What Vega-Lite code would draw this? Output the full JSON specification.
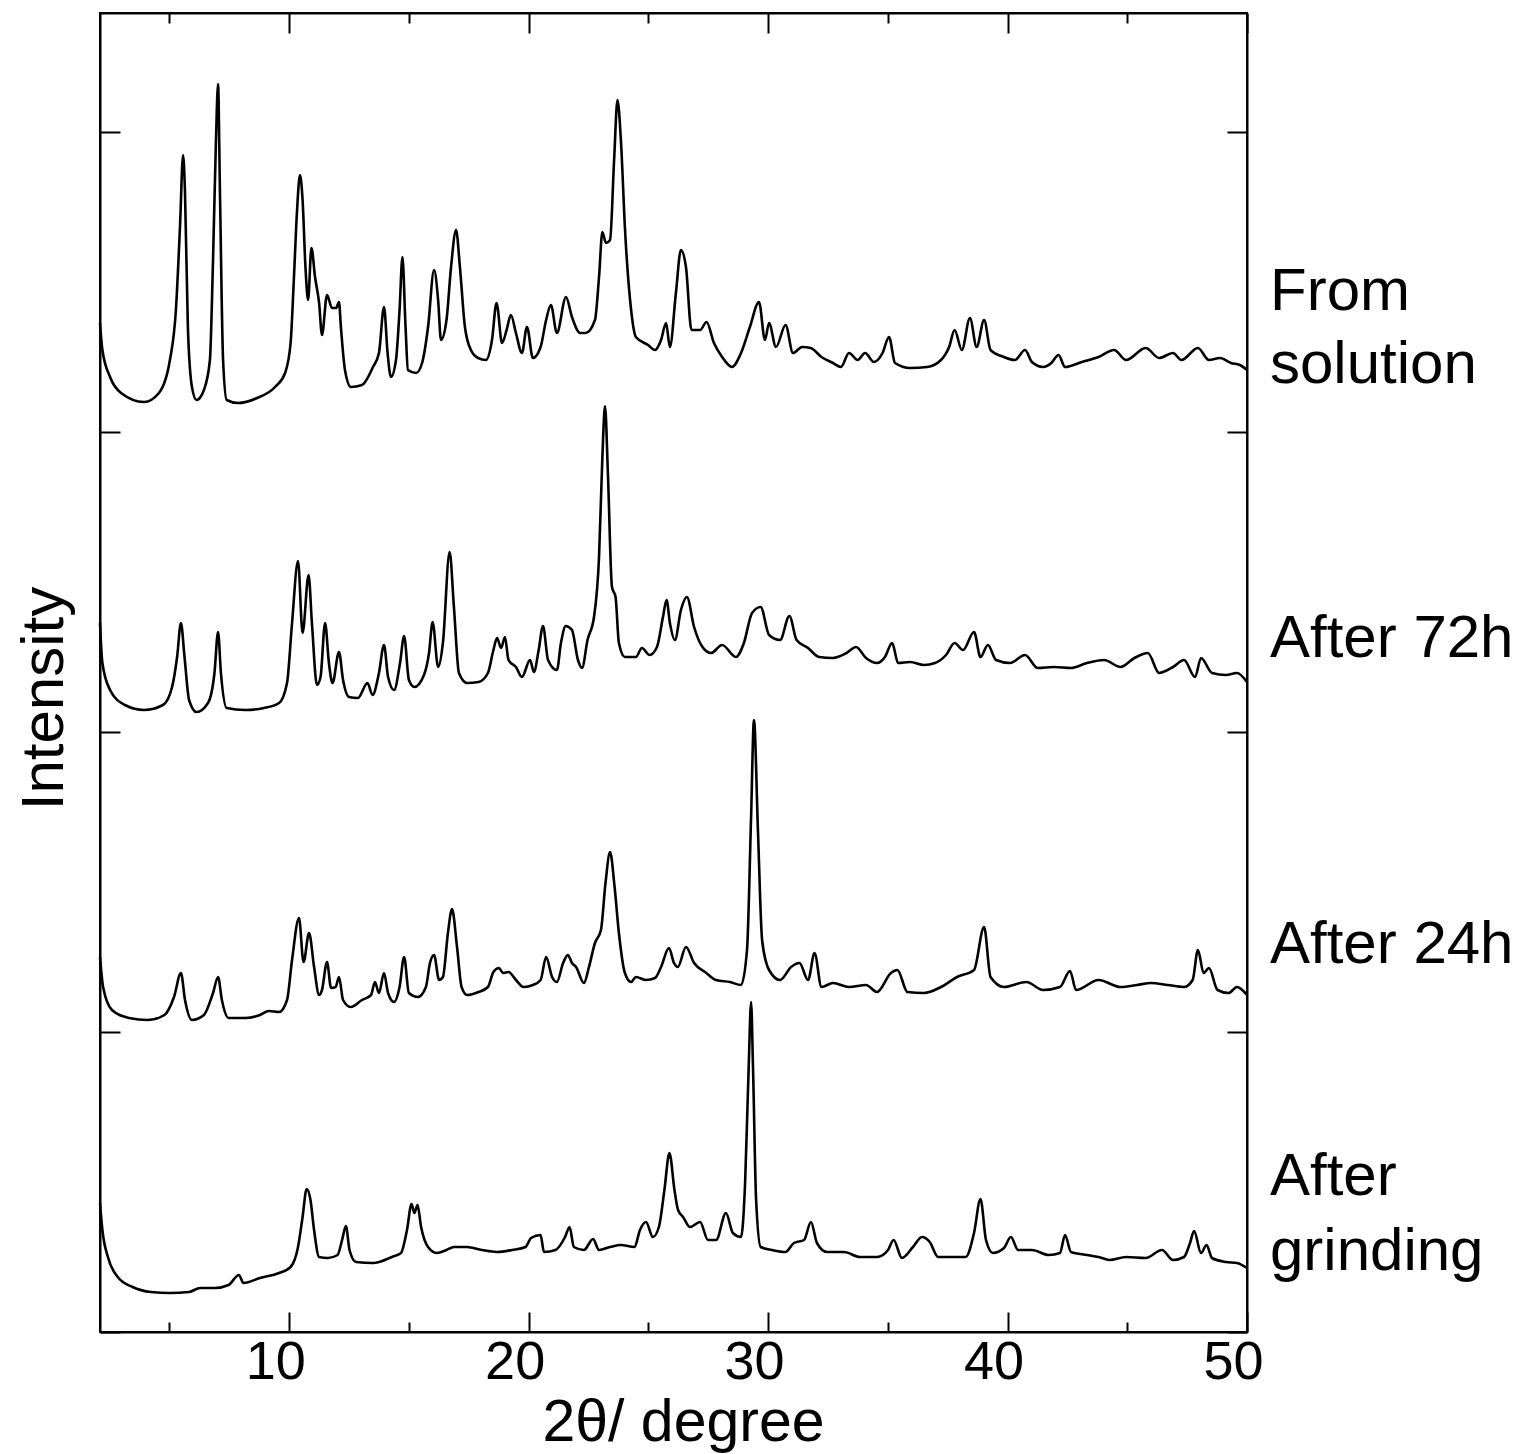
{
  "$schema": "https://vega.github.io/schema/vega-lite/v6.json",
  "width": 1147,
  "height": 1319,
  "autosize": {"type": "none"},
  "padding": {"left": 100, "top": 13, "right": 271, "bottom": 122},
  "background": "white",
  "config": {
    "view": {"stroke": "black", "strokeWidth": 2},
    "font": "Liberation Sans",
    "line": {"color": "black", "strokeWidth": 2.6, "interpolate": "monotone", "strokeJoin": "round"},
    "axis": {"grid": false, "domainColor": "black", "domainWidth": 2, "tickColor": "black", "tickWidth": 2, "labelColor": "black", "titleColor": "black", "labelFont": "Liberation Sans", "titleFont": "Liberation Sans", "titleFontWeight": "normal"}
  },
  "datasets": {
    "sol": [
      {"deg":2.1,"int":1009},{"deg":2.2,"int":982},{"deg":2.52,"int":955},{"deg":2.98,"int":939},{"deg":3.94,"int":930},{"deg":4.56,"int":939},{"deg":5.02,"int":972},{"deg":5.27,"int":1022},{"deg":5.44,"int":1105},{"deg":5.57,"int":1177},{"deg":5.65,"int":1139},{"deg":5.77,"int":1005},{"deg":5.94,"int":945},{"deg":6.13,"int":932},{"deg":6.44,"int":942},{"deg":6.69,"int":972},{"deg":6.82,"int":1072},{"deg":6.94,"int":1189},{"deg":7.03,"int":1248},{"deg":7.11,"int":1139},{"deg":7.24,"int":972},{"deg":7.39,"int":932},{"deg":7.86,"int":929},{"deg":8.66,"int":934},{"deg":9.41,"int":945},{"deg":9.83,"int":959},{"deg":10.06,"int":989},{"deg":10.2,"int":1055},{"deg":10.33,"int":1122},{"deg":10.45,"int":1157},{"deg":10.56,"int":1132},{"deg":10.68,"int":1065},{"deg":10.79,"int":1032},{"deg":10.93,"int":1084},{"deg":11.08,"int":1055},{"deg":11.25,"int":1029},{"deg":11.37,"int":997},{"deg":11.58,"int":1037},{"deg":11.79,"int":1024},{"deg":11.96,"int":1024},{"deg":12.08,"int":1030},{"deg":12.16,"int":1005},{"deg":12.33,"int":962},{"deg":12.58,"int":945},{"deg":13.04,"int":947},{"deg":13.5,"int":965},{"deg":13.75,"int":979},{"deg":13.96,"int":1025},{"deg":14.11,"int":979},{"deg":14.25,"int":955},{"deg":14.46,"int":972},{"deg":14.61,"int":1022},{"deg":14.73,"int":1075},{"deg":14.86,"int":1005},{"deg":14.96,"int":962},{"deg":15.3,"int":959},{"deg":15.55,"int":969},{"deg":15.8,"int":1005},{"deg":16.05,"int":1062},{"deg":16.22,"int":1032},{"deg":16.34,"int":992},{"deg":16.57,"int":1012},{"deg":16.76,"int":1065},{"deg":16.97,"int":1102},{"deg":17.13,"int":1065},{"deg":17.34,"int":1005},{"deg":17.59,"int":982},{"deg":17.89,"int":974},{"deg":18.22,"int":972},{"deg":18.47,"int":992},{"deg":18.66,"int":1029},{"deg":18.89,"int":989},{"deg":19.08,"int":1002},{"deg":19.26,"int":1017},{"deg":19.47,"int":999},{"deg":19.72,"int":979},{"deg":19.93,"int":1005},{"deg":20.18,"int":974},{"deg":20.5,"int":985},{"deg":20.73,"int":1012},{"deg":20.93,"int":1027},{"deg":21.18,"int":999},{"deg":21.56,"int":1035},{"deg":21.81,"int":1015},{"deg":22.15,"int":999},{"deg":22.38,"int":999},{"deg":22.77,"int":1012},{"deg":22.94,"int":1055},{"deg":23.08,"int":1100},{"deg":23.23,"int":1089},{"deg":23.4,"int":1092},{"deg":23.57,"int":1172},{"deg":23.71,"int":1232},{"deg":23.86,"int":1189},{"deg":24.02,"int":1105},{"deg":24.28,"int":1022},{"deg":24.48,"int":995},{"deg":24.99,"int":987},{"deg":25.28,"int":982},{"deg":25.53,"int":992},{"deg":25.74,"int":1009},{"deg":25.9,"int":985},{"deg":26.15,"int":1039},{"deg":26.36,"int":1082},{"deg":26.57,"int":1065},{"deg":26.8,"int":1002},{"deg":27.16,"int":1002},{"deg":27.43,"int":1010},{"deg":27.74,"int":989},{"deg":28.08,"int":975},{"deg":28.49,"int":965},{"deg":28.87,"int":979},{"deg":29.24,"int":1005},{"deg":29.62,"int":1030},{"deg":29.87,"int":992},{"deg":30.04,"int":1009},{"deg":30.33,"int":985},{"deg":30.73,"int":1007},{"deg":31.04,"int":979},{"deg":31.42,"int":985},{"deg":31.78,"int":984},{"deg":32.23,"int":975},{"deg":32.71,"int":969},{"deg":33.04,"int":965},{"deg":33.38,"int":979},{"deg":33.74,"int":972},{"deg":34.05,"int":979},{"deg":34.42,"int":970},{"deg":34.78,"int":979},{"deg":35.05,"int":995},{"deg":35.3,"int":969},{"deg":35.93,"int":964},{"deg":36.64,"int":965},{"deg":37.22,"int":972},{"deg":37.56,"int":985},{"deg":37.79,"int":1002},{"deg":38.09,"int":982},{"deg":38.43,"int":1014},{"deg":38.71,"int":985},{"deg":39.02,"int":1012},{"deg":39.29,"int":982},{"deg":39.85,"int":975},{"deg":40.31,"int":972},{"deg":40.73,"int":982},{"deg":41.02,"int":970},{"deg":41.48,"int":965},{"deg":41.83,"int":969},{"deg":42.13,"int":977},{"deg":42.4,"int":965},{"deg":43.11,"int":970},{"deg":43.8,"int":975},{"deg":44.45,"int":982},{"deg":44.95,"int":972},{"deg":45.77,"int":984},{"deg":46.33,"int":974},{"deg":46.91,"int":979},{"deg":47.26,"int":972},{"deg":47.95,"int":984},{"deg":48.41,"int":972},{"deg":48.87,"int":974},{"deg":49.33,"int":969},{"deg":49.7,"int":967},{"deg":50,"int":962}
    ],
    "h72": [
      {"deg":2.1,"int":709},{"deg":2.2,"int":669},{"deg":2.52,"int":642},{"deg":3.14,"int":627},{"deg":3.94,"int":622},{"deg":4.73,"int":627},{"deg":5.11,"int":645},{"deg":5.32,"int":675},{"deg":5.48,"int":709},{"deg":5.63,"int":675},{"deg":5.82,"int":632},{"deg":6.13,"int":620},{"deg":6.61,"int":629},{"deg":6.88,"int":659},{"deg":7.03,"int":700},{"deg":7.15,"int":659},{"deg":7.39,"int":624},{"deg":8.16,"int":622},{"deg":8.95,"int":624},{"deg":9.58,"int":629},{"deg":9.91,"int":649},{"deg":10.12,"int":709},{"deg":10.37,"int":771},{"deg":10.56,"int":699},{"deg":10.81,"int":757},{"deg":10.95,"int":709},{"deg":11.16,"int":647},{"deg":11.31,"int":655},{"deg":11.5,"int":709},{"deg":11.66,"int":669},{"deg":11.81,"int":649},{"deg":12.08,"int":680},{"deg":12.25,"int":652},{"deg":12.5,"int":635},{"deg":12.87,"int":634},{"deg":13.27,"int":649},{"deg":13.48,"int":637},{"deg":13.75,"int":659},{"deg":13.96,"int":687},{"deg":14.13,"int":655},{"deg":14.38,"int":642},{"deg":14.63,"int":669},{"deg":14.8,"int":696},{"deg":15.0,"int":652},{"deg":15.23,"int":645},{"deg":15.63,"int":657},{"deg":15.84,"int":679},{"deg":15.99,"int":710},{"deg":16.22,"int":665},{"deg":16.42,"int":689},{"deg":16.7,"int":780},{"deg":16.88,"int":725},{"deg":17.09,"int":659},{"deg":17.43,"int":649},{"deg":17.91,"int":650},{"deg":18.3,"int":659},{"deg":18.53,"int":682},{"deg":18.68,"int":694},{"deg":18.85,"int":684},{"deg":19.01,"int":695},{"deg":19.16,"int":672},{"deg":19.47,"int":665},{"deg":19.72,"int":655},{"deg":20.06,"int":672},{"deg":20.22,"int":660},{"deg":20.42,"int":682},{"deg":20.6,"int":706},{"deg":20.81,"int":672},{"deg":21.18,"int":662},{"deg":21.35,"int":689},{"deg":21.55,"int":706},{"deg":21.81,"int":702},{"deg":22.06,"int":672},{"deg":22.23,"int":664},{"deg":22.46,"int":692},{"deg":22.73,"int":715},{"deg":22.94,"int":775},{"deg":23.08,"int":875},{"deg":23.19,"int":926},{"deg":23.31,"int":859},{"deg":23.48,"int":745},{"deg":23.63,"int":735},{"deg":23.77,"int":689},{"deg":24.02,"int":675},{"deg":24.48,"int":675},{"deg":24.73,"int":684},{"deg":25.05,"int":677},{"deg":25.36,"int":685},{"deg":25.61,"int":715},{"deg":25.76,"int":732},{"deg":25.9,"int":709},{"deg":26.11,"int":692},{"deg":26.36,"int":722},{"deg":26.61,"int":735},{"deg":26.91,"int":705},{"deg":27.26,"int":685},{"deg":27.62,"int":679},{"deg":28.08,"int":687},{"deg":28.66,"int":675},{"deg":28.99,"int":689},{"deg":29.33,"int":719},{"deg":29.69,"int":725},{"deg":30.04,"int":697},{"deg":30.5,"int":692},{"deg":30.89,"int":716},{"deg":31.19,"int":692},{"deg":31.67,"int":684},{"deg":32.13,"int":675},{"deg":32.71,"int":674},{"deg":33.28,"int":679},{"deg":33.67,"int":685},{"deg":34.09,"int":674},{"deg":34.55,"int":669},{"deg":34.88,"int":675},{"deg":35.18,"int":689},{"deg":35.43,"int":669},{"deg":35.93,"int":670},{"deg":36.51,"int":667},{"deg":36.97,"int":669},{"deg":37.43,"int":677},{"deg":37.79,"int":689},{"deg":38.14,"int":682},{"deg":38.6,"int":700},{"deg":38.87,"int":675},{"deg":39.18,"int":687},{"deg":39.52,"int":672},{"deg":40.1,"int":669},{"deg":40.73,"int":677},{"deg":41.26,"int":664},{"deg":41.94,"int":665},{"deg":42.65,"int":664},{"deg":43.32,"int":669},{"deg":44.03,"int":672},{"deg":44.72,"int":665},{"deg":45.3,"int":674},{"deg":45.86,"int":679},{"deg":46.33,"int":659},{"deg":46.91,"int":665},{"deg":47.37,"int":672},{"deg":47.83,"int":655},{"deg":48.08,"int":674},{"deg":48.54,"int":659},{"deg":49.12,"int":657},{"deg":49.58,"int":659},{"deg":50,"int":650}
    ],
    "h24": [
      {"deg":2.1,"int":375},{"deg":2.23,"int":345},{"deg":2.6,"int":322},{"deg":3.31,"int":314},{"deg":4.1,"int":312},{"deg":4.79,"int":317},{"deg":5.19,"int":335},{"deg":5.48,"int":359},{"deg":5.65,"int":332},{"deg":5.94,"int":312},{"deg":6.44,"int":317},{"deg":6.82,"int":339},{"deg":7.03,"int":355},{"deg":7.19,"int":332},{"deg":7.47,"int":314},{"deg":8.16,"int":314},{"deg":8.78,"int":317},{"deg":9.15,"int":321},{"deg":9.58,"int":320},{"deg":9.91,"int":332},{"deg":10.12,"int":372},{"deg":10.41,"int":414},{"deg":10.6,"int":370},{"deg":10.83,"int":399},{"deg":11.04,"int":365},{"deg":11.25,"int":337},{"deg":11.37,"int":342},{"deg":11.58,"int":370},{"deg":11.75,"int":344},{"deg":11.94,"int":345},{"deg":12.08,"int":355},{"deg":12.25,"int":332},{"deg":12.57,"int":325},{"deg":13.04,"int":332},{"deg":13.42,"int":337},{"deg":13.58,"int":350},{"deg":13.75,"int":339},{"deg":13.96,"int":359},{"deg":14.13,"int":339},{"deg":14.38,"int":330},{"deg":14.61,"int":345},{"deg":14.8,"int":375},{"deg":15.0,"int":339},{"deg":15.38,"int":335},{"deg":15.71,"int":345},{"deg":15.88,"int":369},{"deg":16.05,"int":377},{"deg":16.26,"int":352},{"deg":16.42,"int":355},{"deg":16.63,"int":399},{"deg":16.8,"int":423},{"deg":17.01,"int":385},{"deg":17.2,"int":345},{"deg":17.43,"int":337},{"deg":17.91,"int":340},{"deg":18.3,"int":345},{"deg":18.53,"int":360},{"deg":18.76,"int":364},{"deg":18.93,"int":359},{"deg":19.16,"int":360},{"deg":19.47,"int":352},{"deg":19.79,"int":345},{"deg":20.18,"int":347},{"deg":20.5,"int":352},{"deg":20.73,"int":375},{"deg":20.98,"int":355},{"deg":21.18,"int":350},{"deg":21.44,"int":369},{"deg":21.64,"int":377},{"deg":21.81,"int":369},{"deg":21.98,"int":365},{"deg":22.31,"int":349},{"deg":22.52,"int":365},{"deg":22.77,"int":389},{"deg":23.02,"int":402},{"deg":23.21,"int":449},{"deg":23.4,"int":480},{"deg":23.59,"int":445},{"deg":23.77,"int":399},{"deg":24.02,"int":359},{"deg":24.28,"int":350},{"deg":24.48,"int":355},{"deg":24.9,"int":352},{"deg":25.28,"int":354},{"deg":25.53,"int":365},{"deg":25.86,"int":384},{"deg":26.07,"int":369},{"deg":26.23,"int":365},{"deg":26.57,"int":385},{"deg":26.91,"int":369},{"deg":27.37,"int":360},{"deg":27.83,"int":352},{"deg":28.41,"int":350},{"deg":28.87,"int":347},{"deg":29.12,"int":382},{"deg":29.29,"int":515},{"deg":29.41,"int":612},{"deg":29.58,"int":499},{"deg":29.75,"int":392},{"deg":30.04,"int":362},{"deg":30.5,"int":352},{"deg":30.96,"int":365},{"deg":31.31,"int":369},{"deg":31.67,"int":352},{"deg":31.94,"int":379},{"deg":32.23,"int":345},{"deg":32.71,"int":349},{"deg":33.38,"int":345},{"deg":34.09,"int":347},{"deg":34.55,"int":340},{"deg":35.13,"int":359},{"deg":35.4,"int":362},{"deg":35.82,"int":340},{"deg":36.51,"int":339},{"deg":37.22,"int":345},{"deg":37.89,"int":355},{"deg":38.6,"int":362},{"deg":39.02,"int":405},{"deg":39.29,"int":355},{"deg":39.85,"int":345},{"deg":40.79,"int":350},{"deg":41.48,"int":342},{"deg":42.19,"int":345},{"deg":42.61,"int":361},{"deg":42.86,"int":342},{"deg":43.8,"int":352},{"deg":44.72,"int":345},{"deg":45.41,"int":347},{"deg":45.99,"int":349},{"deg":46.69,"int":347},{"deg":47.37,"int":345},{"deg":47.73,"int":352},{"deg":47.95,"int":382},{"deg":48.19,"int":359},{"deg":48.41,"int":364},{"deg":48.77,"int":342},{"deg":49.23,"int":339},{"deg":49.58,"int":345},{"deg":50,"int":337}
    ],
    "grind": [
      {"deg":2.1,"int":129},{"deg":2.2,"int":102},{"deg":2.43,"int":75},{"deg":2.84,"int":55},{"deg":3.46,"int":45},{"deg":4.23,"int":40},{"deg":5.02,"int":39},{"deg":5.82,"int":40},{"deg":6.28,"int":44},{"deg":6.9,"int":44},{"deg":7.47,"int":47},{"deg":7.9,"int":57},{"deg":8.09,"int":49},{"deg":8.78,"int":54},{"deg":9.58,"int":59},{"deg":10.06,"int":65},{"deg":10.37,"int":85},{"deg":10.56,"int":115},{"deg":10.73,"int":143},{"deg":10.89,"int":132},{"deg":11.04,"int":102},{"deg":11.25,"int":75},{"deg":11.62,"int":74},{"deg":12.02,"int":77},{"deg":12.21,"int":92},{"deg":12.37,"int":106},{"deg":12.52,"int":82},{"deg":12.79,"int":70},{"deg":13.5,"int":69},{"deg":14.29,"int":75},{"deg":14.67,"int":79},{"deg":14.92,"int":102},{"deg":15.11,"int":128},{"deg":15.23,"int":119},{"deg":15.36,"int":127},{"deg":15.51,"int":105},{"deg":15.8,"int":85},{"deg":16.17,"int":79},{"deg":16.57,"int":82},{"deg":16.88,"int":85},{"deg":17.43,"int":85},{"deg":18.05,"int":82},{"deg":18.68,"int":80},{"deg":19.31,"int":82},{"deg":19.87,"int":85},{"deg":20.1,"int":94},{"deg":20.5,"int":97},{"deg":20.64,"int":80},{"deg":21.12,"int":82},{"deg":21.52,"int":95},{"deg":21.71,"int":105},{"deg":21.89,"int":85},{"deg":22.31,"int":82},{"deg":22.69,"int":93},{"deg":22.94,"int":82},{"deg":23.4,"int":85},{"deg":23.86,"int":87},{"deg":24.42,"int":85},{"deg":24.65,"int":102},{"deg":24.9,"int":110},{"deg":25.19,"int":95},{"deg":25.44,"int":105},{"deg":25.67,"int":142},{"deg":25.88,"int":179},{"deg":26.09,"int":142},{"deg":26.24,"int":122},{"deg":26.45,"int":115},{"deg":26.74,"int":105},{"deg":27.16,"int":110},{"deg":27.49,"int":92},{"deg":27.83,"int":92},{"deg":28.24,"int":119},{"deg":28.53,"int":99},{"deg":28.87,"int":95},{"deg":29.04,"int":149},{"deg":29.19,"int":265},{"deg":29.29,"int":330},{"deg":29.37,"int":265},{"deg":29.5,"int":132},{"deg":29.69,"int":85},{"deg":30.16,"int":82},{"deg":30.73,"int":80},{"deg":31.08,"int":89},{"deg":31.5,"int":92},{"deg":31.79,"int":110},{"deg":32.04,"int":89},{"deg":32.46,"int":80},{"deg":33.17,"int":80},{"deg":33.84,"int":75},{"deg":34.55,"int":75},{"deg":35.01,"int":82},{"deg":35.24,"int":92},{"deg":35.59,"int":74},{"deg":36.05,"int":85},{"deg":36.43,"int":95},{"deg":36.75,"int":90},{"deg":37.1,"int":75},{"deg":37.68,"int":75},{"deg":38.25,"int":75},{"deg":38.6,"int":99},{"deg":38.87,"int":133},{"deg":39.1,"int":92},{"deg":39.39,"int":79},{"deg":39.85,"int":84},{"deg":40.14,"int":95},{"deg":40.44,"int":82},{"deg":41.02,"int":82},{"deg":41.72,"int":77},{"deg":42.19,"int":79},{"deg":42.4,"int":97},{"deg":42.65,"int":80},{"deg":43.32,"int":77},{"deg":43.8,"int":75},{"deg":44.26,"int":72},{"deg":44.95,"int":75},{"deg":45.77,"int":74},{"deg":46.45,"int":82},{"deg":46.91,"int":72},{"deg":47.37,"int":75},{"deg":47.62,"int":89},{"deg":47.79,"int":101},{"deg":48.08,"int":79},{"deg":48.31,"int":87},{"deg":48.54,"int":74},{"deg":49.12,"int":70},{"deg":49.58,"int":69},{"deg":50,"int":64}
    ],
    "labels": [
      {"deg":50,"int":1022,"text":"From"},
      {"deg":50,"int":949,"text":"solution"},
      {"deg":50,"int":675,"text":"After 72h"},
      {"deg":50,"int":369,"text":"After 24h"},
      {"deg":50,"int":137,"text":"After"},
      {"deg":50,"int":62,"text":"grinding"}
    ]
  },
  "layer": [
    {
      "data": {"name": "sol"},
      "mark": {"type": "line"},
      "encoding": {
        "x": {"field": "deg", "type": "quantitative", "scale": {"domain": [2.1, 50], "nice": false, "zero": false},
          "axis": {"orient": "bottom", "values": [5,10,15,20,25,30,35,40,45,50],
            "tickSize": {"condition": {"test": "datum.value % 10 === 0", "value": -20}, "value": -10},
            "labelExpr": "datum.value % 10 === 0 ? datum.label : ''",
            "labelFontSize": 54, "labelBaseline": "alphabetic", "labelPadding": 66, "labelOffset": -14, "labelFlush": false, "labelOverlap": false,
            "title": "2θ/ degree", "titleFontSize": 59, "titleX": 583, "titleY": 108, "titleBaseline": "alphabetic"}},
        "y": {"field": "int", "type": "quantitative", "scale": {"domain": [0, 1319], "nice": false, "zero": false},
          "axis": {"orient": "left", "values": [0,300,600,900,1200], "labels": false, "tickSize": -20,
            "title": "Intensity", "titleFontSize": 60, "titleX": -37.5, "titleY": 685, "titleBaseline": "alphabetic", "titleAngle": 270, "titleAlign": "center"}}
      }
    },
    {
      "data": {"name": "h72"},
      "mark": {"type": "line"},
      "encoding": {
        "x": {"field": "deg", "type": "quantitative",
          "axis": {"orient": "top", "values": [5,10,15,20,25,30,35,40,45,50], "labels": false, "title": null,
            "tickSize": {"condition": {"test": "datum.value % 10 === 0", "value": -20}, "value": -10}}},
        "y": {"field": "int", "type": "quantitative",
          "axis": {"orient": "right", "values": [0,300,600,900,1200], "labels": false, "tickSize": -20, "title": null}}
      }
    },
    {
      "data": {"name": "h24"},
      "mark": {"type": "line"},
      "encoding": {
        "x": {"field": "deg", "type": "quantitative", "axis": null},
        "y": {"field": "int", "type": "quantitative", "axis": null}
      }
    },
    {
      "data": {"name": "grind"},
      "mark": {"type": "line"},
      "encoding": {
        "x": {"field": "deg", "type": "quantitative", "axis": null},
        "y": {"field": "int", "type": "quantitative", "axis": null}
      }
    },
    {
      "data": {"name": "labels"},
      "mark": {"type": "text", "align": "left", "baseline": "alphabetic", "dx": 23, "fontSize": 60, "font": "Liberation Sans", "color": "black"},
      "encoding": {
        "x": {"field": "deg", "type": "quantitative", "axis": null},
        "y": {"field": "int", "type": "quantitative", "axis": null},
        "text": {"field": "text"}
      }
    }
  ],
  "resolve": {"axis": {"x": "independent", "y": "independent"}}
}
